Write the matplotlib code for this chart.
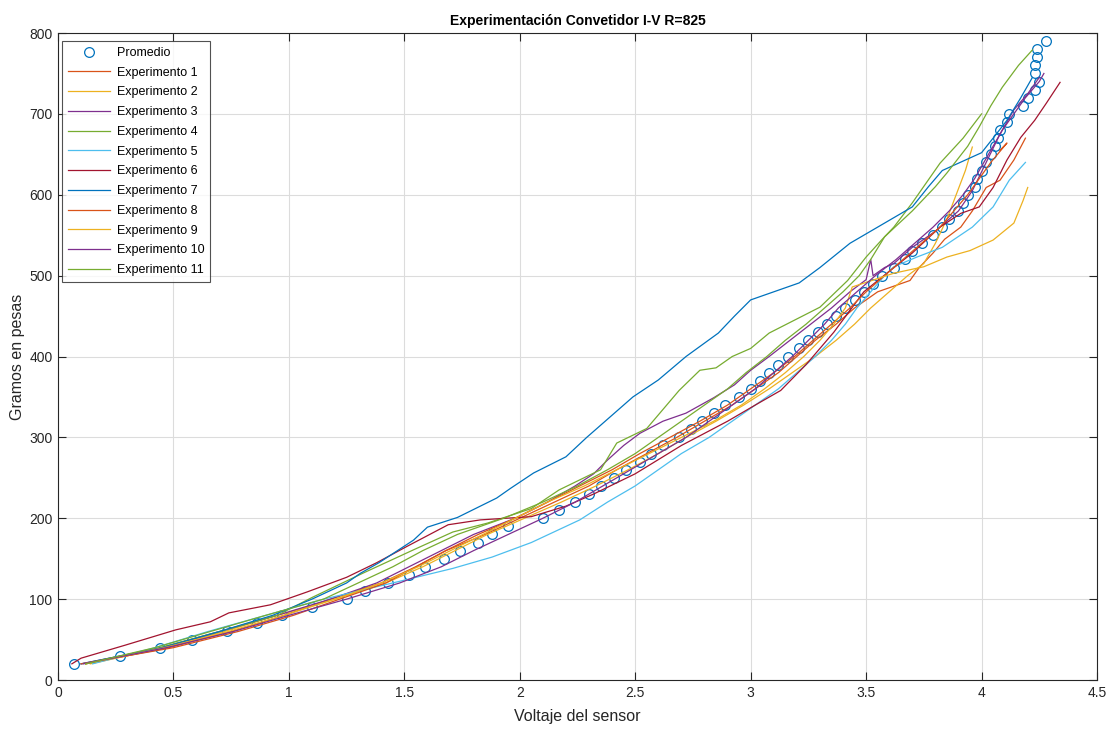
import matplotlib
matplotlib.use("Agg")
from matplotlib import pyplot as plt

# Promedio (average) - voltage vs grams
prom_g = [20, 30, 40, 50, 60, 70, 80, 90, 100, 110, 120, 130, 140, 150, 160, 170, 180, 190,
          200, 210, 220, 230, 240, 250, 260, 270, 280, 290, 300, 310, 320, 330, 340, 350,
          360, 370, 380, 390, 400, 410, 420, 430, 440, 450, 460, 470, 480, 490, 500, 510,
          520, 530, 540, 550, 560, 570, 580, 590, 600, 610, 620, 630, 640, 650, 660, 670,
          680, 690, 700, 710, 720, 730, 740, 750, 760, 770, 780, 790]
prom_v = [0.07, 0.27, 0.44, 0.58, 0.73, 0.86, 0.97, 1.10, 1.25, 1.33, 1.43, 1.52, 1.59, 1.67,
          1.74, 1.82, 1.88, 1.95, 2.10, 2.17, 2.24, 2.30, 2.35, 2.41, 2.46, 2.52, 2.57, 2.62,
          2.69, 2.74, 2.79, 2.84, 2.89, 2.95, 3.00, 3.04, 3.08, 3.12, 3.16, 3.21, 3.25, 3.29,
          3.33, 3.37, 3.41, 3.45, 3.49, 3.53, 3.57, 3.62, 3.67, 3.70, 3.74, 3.79, 3.83, 3.86,
          3.90, 3.92, 3.94, 3.97, 3.98, 4.00, 4.02, 4.04, 4.06, 4.07, 4.08, 4.11, 4.12, 4.18,
          4.20, 4.23, 4.25, 4.23, 4.23, 4.24, 4.24, 4.28]

# experiments
exp1_g = [20, 40, 60, 80, 100, 120, 140, 160, 180, 200, 220, 240, 260, 280, 300, 320, 340,
          360, 380, 400, 420, 440, 460, 480, 494, 510, 528, 545, 560, 580, 609, 618, 643, 670]
exp1_v = [0.12, 0.48, 0.75, 0.98, 1.18, 1.40, 1.55, 1.68, 1.85, 2.00, 2.15, 2.30, 2.42, 2.55,
          2.68, 2.80, 2.92, 3.02, 3.12, 3.20, 3.28, 3.37, 3.45, 3.55, 3.69, 3.73, 3.79, 3.84,
          3.91, 3.96, 4.02, 4.08, 4.14, 4.19]

exp2_g = [20, 40, 60, 80, 100, 120, 140, 160, 180, 200, 220, 240, 260, 280, 300, 320, 340,
          360, 380, 400, 420, 440, 460, 480, 500, 515, 540, 570, 600, 630, 659]
exp2_v = [0.14, 0.46, 0.72, 0.95, 1.20, 1.42, 1.58, 1.72, 1.86, 2.02, 2.18, 2.33, 2.47, 2.60,
          2.72, 2.85, 2.97, 3.08, 3.18, 3.28, 3.37, 3.45, 3.52, 3.60, 3.68, 3.75, 3.80, 3.85,
          3.89, 3.93, 3.96]

exp3_g = [20, 40, 60, 80, 100, 120, 140, 160, 180, 200, 220, 240, 255, 272, 290, 305, 320,
          330, 349, 365, 383, 400, 420, 440, 460, 480, 495, 520, 500, 510, 515, 535, 555, 580,
          605, 640, 675, 705, 725, 745]
exp3_v = [0.10, 0.45, 0.70, 0.95, 1.18, 1.38, 1.52, 1.66, 1.80, 1.98, 2.12, 2.24, 2.32, 2.38,
          2.45, 2.52, 2.62, 2.72, 2.84, 2.93, 3.00, 3.08, 3.17, 3.26, 3.35, 3.43, 3.50, 3.52,
          3.53, 3.58, 3.62, 3.70, 3.80, 3.90, 3.96, 4.02, 4.08, 4.14, 4.20, 4.25]

exp4_g = [20, 40, 60, 80, 102, 132, 161, 183, 194, 212, 235, 260, 293, 311, 358, 383, 386,
          400, 410, 429, 461, 494, 523, 545, 560, 590, 639, 670, 700]
exp4_v = [0.12, 0.44, 0.70, 0.95, 1.10, 1.32, 1.54, 1.71, 1.86, 2.05, 2.17, 2.35, 2.42, 2.55,
          2.69, 2.78, 2.85, 2.92, 3.00, 3.08, 3.30, 3.42, 3.50, 3.57, 3.62, 3.70, 3.82, 3.92,
          4.00]

exp5_g = [20, 40, 60, 80, 100, 120, 138, 152, 170, 190, 198, 220, 240, 260, 280, 300, 320,
          340, 360, 380, 400, 420, 440, 460, 480, 500, 511, 523, 535, 560, 585, 618, 640]
exp5_v = [0.15, 0.42, 0.65, 0.90, 1.15, 1.45, 1.71, 1.88, 2.05, 2.20, 2.26, 2.38, 2.50, 2.60,
          2.70, 2.82, 2.92, 3.02, 3.12, 3.20, 3.28, 3.35, 3.41, 3.46, 3.52, 3.58, 3.62, 3.72,
          3.83, 3.96, 4.05, 4.12, 4.19]

exp6_g = [20, 27, 43, 62, 72, 83, 93, 109, 127, 145, 165, 192, 198, 202, 215, 230, 255, 290,
          320, 340, 358, 390, 430, 480, 503, 528, 560, 577, 585, 609, 643, 671, 692, 713, 739]
exp6_v = [0.06, 0.10, 0.29, 0.51, 0.66, 0.74, 0.92, 1.08, 1.25, 1.38, 1.51, 1.69, 1.83, 2.05,
          2.20, 2.32, 2.50, 2.70, 2.90, 3.02, 3.13, 3.24, 3.36, 3.49, 3.59, 3.70, 3.82, 3.91,
          3.99, 4.05, 4.11, 4.17, 4.23, 4.28, 4.34]

exp7_g = [20, 40, 60, 80, 100, 120, 132, 145, 173, 189, 201, 225, 237, 256, 276, 300, 350,
          371, 400, 429, 450, 470, 480, 491, 510, 540, 560, 585, 610, 630, 652, 670, 692, 720,
          745]
exp7_v = [0.10, 0.45, 0.70, 0.93, 1.10, 1.25, 1.31, 1.39, 1.54, 1.60, 1.73, 1.90, 1.96, 2.06,
          2.20, 2.29, 2.49, 2.60, 2.72, 2.86, 2.93, 3.00, 3.10, 3.21, 3.30, 3.43, 3.55, 3.70,
          3.77, 3.83, 4.00, 4.05, 4.11, 4.17, 4.22]

exp8_g = [20, 40, 60, 80, 100, 120, 140, 160, 180, 200, 220, 240, 260, 280, 300, 320, 340,
          360, 380, 400, 420, 440, 460, 480, 500, 520, 540, 560, 580, 600, 620, 640, 664, 655]
exp8_v = [0.10, 0.50, 0.78, 1.02, 1.22, 1.42, 1.55, 1.68, 1.82, 1.98, 2.12, 2.26, 2.40, 2.52,
          2.65, 2.78, 2.90, 3.00, 3.10, 3.19, 3.27, 3.35, 3.43, 3.50, 3.58, 3.66, 3.74, 3.82,
          3.88, 3.94, 3.99, 4.04, 4.11, 4.08]

exp9_g = [20, 40, 60, 80, 100, 120, 140, 160, 180, 200, 220, 240, 260, 280, 300, 320, 340,
          360, 380, 400, 420, 440, 460, 486, 503, 511, 523, 531, 544, 565, 593, 609]
exp9_v = [0.12, 0.46, 0.74, 0.98, 1.20, 1.40, 1.56, 1.70, 1.84, 1.98, 2.12, 2.28, 2.42, 2.56,
          2.70, 2.84, 2.96, 3.06, 3.15, 3.23, 3.30, 3.36, 3.41, 3.44, 3.62, 3.75, 3.85, 3.95,
          4.05, 4.14, 4.18, 4.20]

exp10_g = [20, 40, 60, 80, 100, 120, 140, 160, 180, 200, 220, 240, 260, 280, 300, 320, 340,
           360, 380, 400, 420, 440, 460, 480, 500, 520, 540, 560, 580, 600, 620, 640, 660, 680,
           700, 720, 740, 750]
exp10_v = [0.11, 0.47, 0.76, 1.00, 1.25, 1.48, 1.66, 1.80, 1.95, 2.10, 2.24, 2.36, 2.48, 2.60,
           2.72, 2.82, 2.92, 3.02, 3.10, 3.18, 3.25, 3.32, 3.38, 3.46, 3.54, 3.63, 3.71, 3.79,
           3.86, 3.92, 3.97, 4.01, 4.05, 4.09, 4.14, 4.19, 4.25, 4.27]

exp11_g = [20, 40, 60, 80, 100, 120, 140, 160, 180, 200, 220, 240, 260, 280, 300, 320, 340,
           360, 380, 400, 420, 440, 460, 480, 500, 520, 548, 580, 610, 627, 660, 684, 710, 733,
           760, 779]
exp11_v = [0.12, 0.42, 0.66, 0.90, 1.15, 1.30, 1.45, 1.58, 1.73, 1.93, 2.10, 2.25, 2.38, 2.50,
           2.60, 2.70, 2.80, 2.90, 2.98, 3.07, 3.15, 3.24, 3.32, 3.40, 3.47, 3.52, 3.58, 3.70,
           3.80, 3.85, 3.94, 3.99, 4.04, 4.09, 4.16, 4.22]

experiments = [(exp1_v, exp1_g), (exp2_v, exp2_g), (exp3_v, exp3_g), (exp4_v, exp4_g),
               (exp5_v, exp5_g), (exp6_v, exp6_g), (exp7_v, exp7_g), (exp8_v, exp8_g),
               (exp9_v, exp9_g), (exp10_v, exp10_g), (exp11_v, exp11_g)]

# matlab default colour order
colors = ["#0072BD", "#D95319", "#EDB120", "#7E2F8E", "#77AC30", "#4DBEEE", "#A2142F"]

plt.rcParams["font.family"] = ["Liberation Sans", "DejaVu Sans"]

fig = plt.figure(figsize=(11.11, 7.29), dpi=100)
ax = fig.add_axes([0.0522, 0.0672, 0.9352, 0.8875])

ax.plot(prom_v, prom_g, "o", markerfacecolor="none", markeredgecolor=colors[0],
        markersize=7, markeredgewidth=0.9, label="Promedio")
for i, (v, g) in enumerate(experiments):
    ax.plot(v, g, "-", color=colors[(i + 1) % 7], linewidth=0.9,
            label="Experimento %d" % (i + 1))

ax.set_xlim(0, 4.5)
ax.set_ylim(0, 800)
ax.set_xticks([0, 0.5, 1, 1.5, 2, 2.5, 3, 3.5, 4, 4.5])
ax.set_xticklabels(["0", "0.5", "1", "1.5", "2", "2.5", "3", "3.5", "4", "4.5"])
ax.set_yticks(range(0, 801, 100))
ax.grid(True, color="#dcdcdc", linewidth=0.8)
ax.set_axisbelow(True)
ax.tick_params(direction="in", top=True, right=True, length=6, labelsize=10,
               colors="#262626", pad=4)
for s in ax.spines.values():
    s.set_color("#262626")
    s.set_linewidth(0.8)

ax.set_title("Experimentación Convetidor I-V R=825", fontsize=10, fontweight="bold", pad=6)
ax.set_xlabel("Voltaje del sensor", fontsize=11.5, color="#262626", labelpad=7)
ax.set_ylabel("Gramos en pesas", fontsize=11.5, color="#262626", labelpad=3)

leg = ax.legend(loc="upper left", bbox_to_anchor=(0.0005, 0.993), fontsize=9,
                frameon=True, fancybox=False, handlelength=3.4, borderpad=0.45,
                labelspacing=0.62, handletextpad=0.5, borderaxespad=0.3)
leg.get_frame().set_edgecolor("#262626")
leg.get_frame().set_linewidth(0.8)

plt.savefig("out.png", dpi=100)
